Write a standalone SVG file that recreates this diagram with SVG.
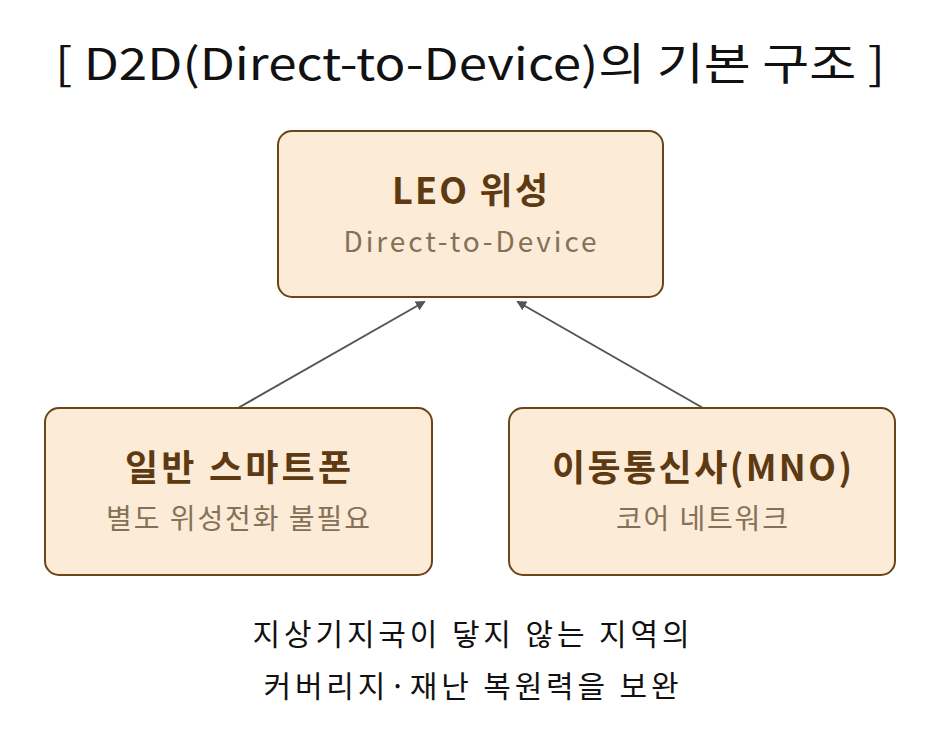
<svg xmlns="http://www.w3.org/2000/svg" width="940" height="743" viewBox="0 0 940 743">
<style>
.box{fill:#FBEBD7;stroke:#6B4519;stroke-width:2}
.t{font-family:"Noto Sans CJK KR","Noto Sans",sans-serif;text-anchor:middle}
.h{font-size:36px;font-weight:bold;fill:#5E3A12}
.s{font-size:28px;fill:#857157}
.c{font-size:30px;fill:#111}
.e{stroke:#555;stroke-width:2;fill:none;marker-end:url(#a)}
</style>
<defs><marker id="a" markerWidth="10" markerHeight="10" refX="8" refY="5" orient="auto" markerUnits="userSpaceOnUse"><path d="M0,0 L10,5 L0,10 z" fill="#555"/></marker></defs>
<rect width="940" height="743" fill="#fff"/>
<text class="t" x="470" y="80" font-size="44" fill="#111" textLength="830" lengthAdjust="spacingAndGlyphs">[ D2D(Direct-to-Device)의 기본 구조 ]</text>
<g id="conn">
<line class="e" x1="238" y1="408" x2="424" y2="302"/>
<line class="e" x1="703" y1="408" x2="518" y2="302"/>
</g>
<g id="leo"><rect class="box" x="278" y="131" width="385" height="166" rx="14"/>
<text class="t h" x="470" y="204" textLength="156">LEO 위성</text><text class="t s" x="470" y="252" textLength="253">Direct-to-Device</text></g>
<g id="phone"><rect class="box" x="45" y="408" width="387" height="167" rx="14"/>
<text class="t h" x="238" y="481" textLength="226">일반 스마트폰</text><text class="t s" x="238" y="529" textLength="264">별도 위성전화 불필요</text></g>
<g id="mno"><rect class="box" x="509" y="408" width="386" height="167" rx="14"/>
<text class="t h" x="702" y="481" textLength="300">이동통신사(MNO)</text><text class="t s" x="702" y="529" textLength="172">코어 네트워크</text></g>
<text class="t c" x="471" y="645" textLength="437">지상기지국이 닿지 않는 지역의</text>
<text class="t c" x="471" y="697" textLength="415">커버리지·재난 복원력을 보완</text>
</svg>
